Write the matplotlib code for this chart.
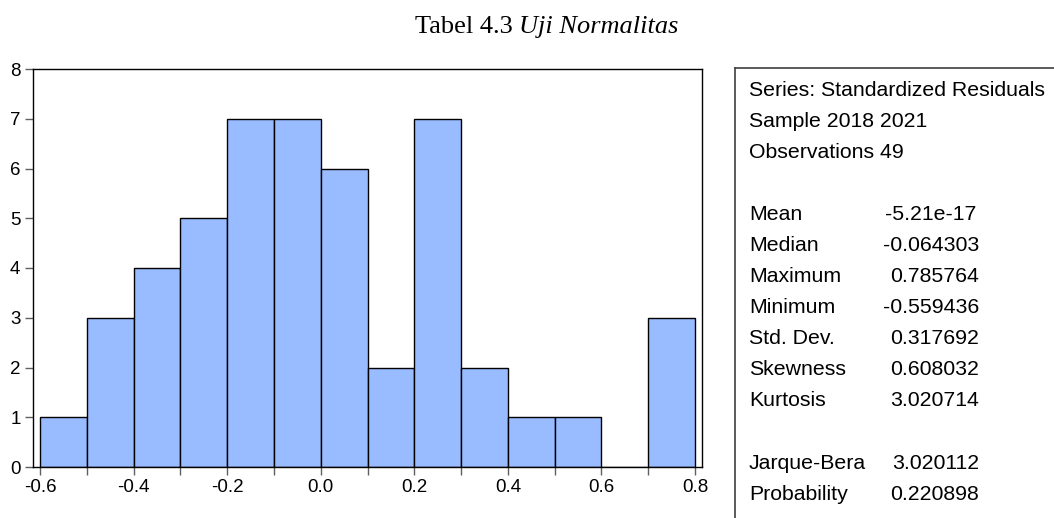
import matplotlib
matplotlib.use("Agg")
import matplotlib.pyplot as plt
from matplotlib.lines import Line2D

# Data
bin_edges = [-0.6, -0.5, -0.4, -0.3, -0.2, -0.1, 0.0, 0.1, 0.2, 0.3, 0.4, 0.5, 0.6, 0.7, 0.8]
counts = [1, 3, 4, 5, 7, 7, 6, 2, 7, 2, 1, 1, 0, 3]
x_tick_labels = ["-0.6", "-0.4", "-0.2", "0.0", "0.2", "0.4", "0.6", "0.8"]
y_ticks = [0, 1, 2, 3, 4, 5, 6, 7, 8]

stat_header = ["Series: Standardized Residuals", "Sample 2018 2021", "Observations 49"]
stat_names = ["Mean", "Median", "Maximum", "Minimum", "Std. Dev.", "Skewness", "Kurtosis"]
stat_values = ["-5.21e-17", "-0.064303", "0.785764", "-0.559436", "0.317692", "0.608032", "3.020714"]
test_names = ["Jarque-Bera", "Probability"]
test_values = ["3.020112", "0.220898"]

W, H = 1054, 518
plt.rcParams['font.family'] = ['Liberation Sans', 'DejaVu Sans']
fig = plt.figure(figsize=(W / 100, H / 100), dpi=100)

def fx(px):
    return px / W

def fy(py):
    return 1 - py / H

ax = fig.add_axes([fx(33), fy(467), fx(702) - fx(33), fy(69) - fy(467)])
lefts = bin_edges[:-1]
widths = [bin_edges[i + 1] - bin_edges[i] for i in range(len(counts))]
ax.bar(lefts, counts, width=widths, align='edge', color='#99BBFF',
       edgecolor='black', linewidth=1.0)
ax.set_xlim(-0.615, 0.815)
ax.set_ylim(0, 8)
ax.set_xticks(bin_edges)
ax.set_xticklabels([x_tick_labels[i // 2] if i % 2 == 0 else "" for i in range(len(bin_edges))])
ax.set_yticks(y_ticks)
ax.set_yticklabels([str(v) for v in y_ticks])
ax.tick_params(axis='both', direction='out', length=6, width=1, color='#606060',
               labelsize=13.5, labelcolor='black', pad=3)
for s in ax.spines.values():
    s.set_color('black')
    s.set_linewidth(1.0)

# Title
t1 = fig.text(fx(415), fy(33), "Tabel 4.3 ", fontsize=19, family=['Liberation Serif'],
              ha='left', va='baseline')
fig.canvas.draw()
r = fig.canvas.get_renderer()
ext = t1.get_window_extent(r)
fig.text(ext.x1 / W, fy(33), "Uji Normalitas", fontsize=19, family=['Liberation Serif'],
         style='italic', ha='left', va='baseline')

# Stats box lines
fig.add_artist(Line2D([fx(735), 1.0], [fy(68), fy(68)], color='#404040', lw=1.2))
fig.add_artist(Line2D([fx(735), fx(735)], [fy(68), 0.0], color='#404040', lw=1.2))

fs = 15.3
ys_header = [96, 127, 158]
for txt, y in zip(stat_header, ys_header):
    fig.text(fx(749), fy(y), txt, fontsize=fs, ha='left', va='baseline')
ys_stats = [220, 251, 282, 313, 344, 375, 406]
for i, (name, val, y) in enumerate(zip(stat_names, stat_values, ys_stats)):
    fig.text(fx(749), fy(y), name, fontsize=fs, ha='left', va='baseline')
    if i == 0:
        fig.text(fx(885), fy(y), val, fontsize=fs, ha='left', va='baseline')
    else:
        fig.text(fx(979), fy(y), val, fontsize=fs, ha='right', va='baseline')
ys_test = [469, 500]
for name, val, y in zip(test_names, test_values, ys_test):
    fig.text(fx(749), fy(y), name, fontsize=fs, ha='left', va='baseline')
    fig.text(fx(979), fy(y), val, fontsize=fs, ha='right', va='baseline')

fig.savefig("out.png", dpi=100)
